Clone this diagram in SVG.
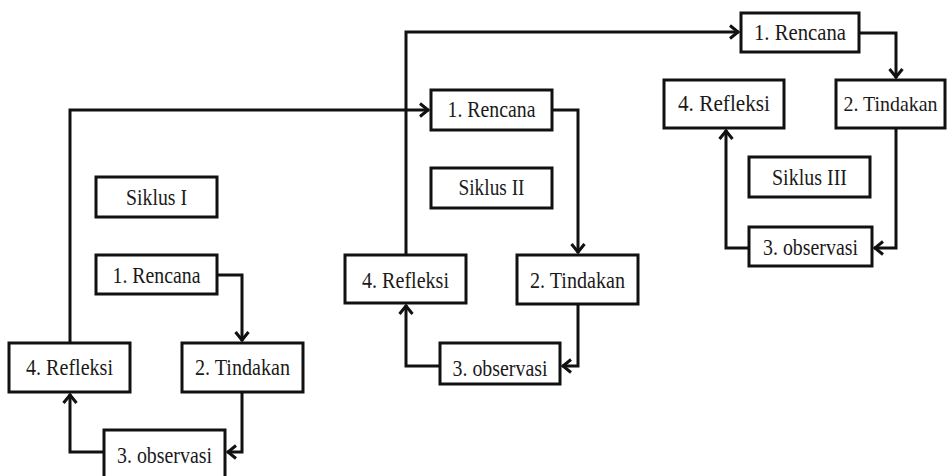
<svg xmlns="http://www.w3.org/2000/svg" width="947" height="476" viewBox="0 0 947 476">
<defs>
<style>
.box{fill:#fff;stroke:#111;stroke-width:3}
.lbl{font-family:"Liberation Serif","Times New Roman",serif;font-size:23px;fill:#1a1a1a;text-anchor:middle}
.con{fill:none;stroke:#111;stroke-width:3;stroke-linejoin:miter}
</style>
<marker id="arr" markerUnits="userSpaceOnUse" markerWidth="16" markerHeight="16" viewBox="-11 -8 13 16" refX="0" refY="0" orient="auto">
<path d="M-9,-6.5 L-1,0 L-9,6.5" fill="none" stroke="#111" stroke-width="3"/>
</marker>
</defs>
<rect width="947" height="476" fill="#fff"/>
<g id="connectors">
<path class="con" d="M217,275 H242 V341" marker-end="url(#arr)"/>
<path class="con" d="M242,392 V452 H227" marker-end="url(#arr)"/>
<path class="con" d="M104,452 H70 V394" marker-end="url(#arr)"/>
<path class="con" d="M70,343 V110 H429" marker-end="url(#arr)"/>
<path class="con" d="M552,110 H578 V253" marker-end="url(#arr)"/>
<path class="con" d="M578,304 V366 H562" marker-end="url(#arr)"/>
<path class="con" d="M440,366 H406 V305" marker-end="url(#arr)"/>
<path class="con" d="M406,255 V32 H739" marker-end="url(#arr)"/>
<path class="con" d="M859,33 H896 V78" marker-end="url(#arr)"/>
<path class="con" d="M896,128 V248 H874" marker-end="url(#arr)"/>
<path class="con" d="M749,248 H726 V130" marker-end="url(#arr)"/>
</g>
<g id="siklus1">
<rect class="box" x="96" y="177" width="121" height="40"/>
<text class="lbl" x="156.5" y="205" textLength="61" lengthAdjust="spacingAndGlyphs">Siklus I</text>
</g>
<g id="rencana1">
<rect class="box" x="96" y="255" width="121" height="39"/>
<text class="lbl" x="156.5" y="283" textLength="88" lengthAdjust="spacingAndGlyphs">1. Rencana</text>
</g>
<g id="tindakan1">
<rect class="box" x="182" y="343" width="121" height="49"/>
<text class="lbl" x="242.5" y="375" textLength="95" lengthAdjust="spacingAndGlyphs">2. Tindakan</text>
</g>
<g id="observasi1">
<rect class="box" x="104" y="430" width="121" height="52"/>
<text class="lbl" x="164.5" y="463" textLength="95" lengthAdjust="spacingAndGlyphs">3. observasi</text>
</g>
<g id="refleksi1">
<rect class="box" x="9" y="343" width="121" height="49"/>
<text class="lbl" x="69.5" y="375" textLength="87" lengthAdjust="spacingAndGlyphs">4. Refleksi</text>
</g>
<g id="rencana2">
<rect class="box" x="431" y="90" width="121" height="40"/>
<text class="lbl" x="491.5" y="117" textLength="88" lengthAdjust="spacingAndGlyphs">1. Rencana</text>
</g>
<g id="siklus2">
<rect class="box" x="431" y="168" width="121" height="40"/>
<text class="lbl" x="491.5" y="195" textLength="66" lengthAdjust="spacingAndGlyphs">Siklus II</text>
</g>
<g id="tindakan2">
<rect class="box" x="517" y="255" width="121" height="49"/>
<text class="lbl" x="577.5" y="288" textLength="95" lengthAdjust="spacingAndGlyphs">2. Tindakan</text>
</g>
<g id="observasi2">
<rect class="box" x="440" y="343" width="120" height="41"/>
<text class="lbl" x="500" y="376" textLength="95" lengthAdjust="spacingAndGlyphs">3. observasi</text>
</g>
<g id="refleksi2">
<rect class="box" x="345" y="255" width="121" height="48"/>
<text class="lbl" x="405.5" y="288" textLength="87" lengthAdjust="spacingAndGlyphs">4. Refleksi</text>
</g>
<g id="rencana3">
<rect class="box" x="741" y="13" width="118" height="39"/>
<text class="lbl" x="800" y="40" textLength="92" lengthAdjust="spacingAndGlyphs">1. Rencana</text>
</g>
<g id="tindakan3">
<rect class="box" x="836" y="80" width="109" height="48"/>
<text class="lbl" x="890.5" y="111" style="font-size:21px" textLength="94" lengthAdjust="spacingAndGlyphs">2. Tindakan</text>
</g>
<g id="siklus3">
<rect class="box" x="749" y="157" width="121" height="40"/>
<text class="lbl" x="809.5" y="185" textLength="75" lengthAdjust="spacingAndGlyphs">Siklus III</text>
</g>
<g id="observasi3">
<rect class="box" x="749" y="227" width="123" height="39"/>
<text class="lbl" x="810.5" y="255" textLength="95" lengthAdjust="spacingAndGlyphs">3. observasi</text>
</g>
<g id="refleksi3">
<rect class="box" x="664" y="80" width="120" height="48"/>
<text class="lbl" x="724" y="111" textLength="92" lengthAdjust="spacingAndGlyphs">4. Refleksi</text>
</g>
</svg>
